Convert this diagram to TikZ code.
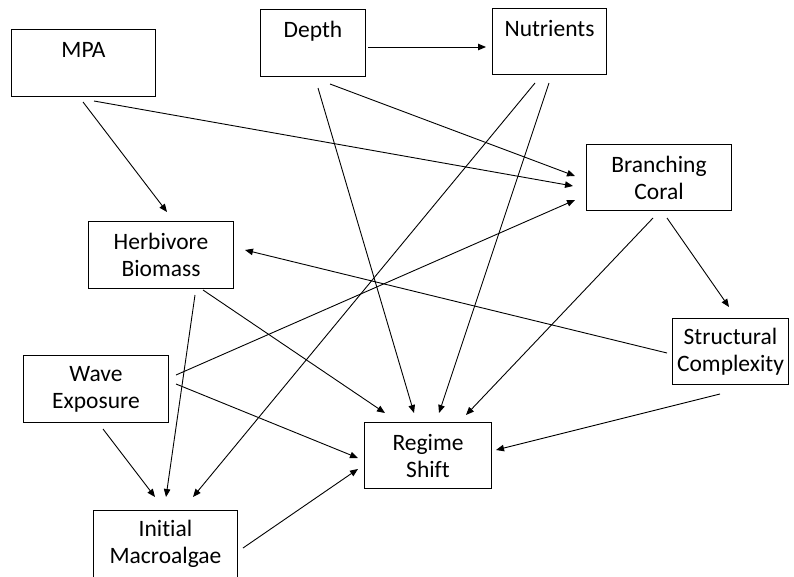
\documentclass[tikz,border=0pt]{standalone}
\usepackage{fontspec}
\setmainfont{Carlito}[Ligatures=NoCommon]
\usetikzlibrary{arrows.meta}
\begin{document}
\begin{tikzpicture}[x=1pt,y=-1pt,
  box/.style={draw,line width=1pt,anchor=north west,inner sep=0pt,
    align=center,font=\fontsize{23.5}{27}\selectfont},
  link/.style={line width=0.9pt,-{Triangle[length=8pt,width=6.5pt]}}]
\useasboundingbox (0,0) rectangle (794,576);
% variables (boxes placed by their upper-left corners)
\node[box,minimum width=144pt,minimum height=67pt] (mpa)    at (11,29)   {MPA\\\mbox{}};
\node[box,minimum width=105pt,minimum height=67pt] (depth)  at (260,9)   {Depth\\\mbox{}};
\node[box,minimum width=114pt,minimum height=66pt] (nut)    at (492,8)   {Nutrients\\\mbox{}};
\node[box,minimum width=145pt,minimum height=66pt] (br)     at (586,144) {Branching\\Coral};
\node[box,minimum width=145pt,minimum height=67pt] (herb)   at (88,221)  {Herbivore\\Biomass};
\node[box,minimum width=145pt,minimum height=67pt] (wave)   at (23,355)  {Wave\\Exposure};
\node[box,minimum width=116pt,minimum height=66pt] (struct) at (672,318) {Structural\\Complexity};
\node[box,minimum width=127pt,minimum height=66pt] (regime) at (364,422) {Regime\\Shift};
\node[box,minimum width=144pt,minimum height=67pt] (init)   at (93,510)  {Initial\\Macroalgae};
% causal links
\draw[link] ([shift={(72,73)}]mpa.north west)    -- ([shift={(79,-9)}]herb.north west);
\draw[link] ([shift={(83,72)}]mpa.north west)    -- ([shift={(-13,42)}]br.north west);
\draw[link] ([shift={(108,38)}]depth.north west) -- ([shift={(-6,39)}]nut.north west);
\draw[link] ([shift={(58,79)}]depth.north west)  -- ([shift={(50,-9)}]regime.north west);
\draw[link] ([shift={(70,75)}]depth.north west)  -- ([shift={(-11,32)}]br.north west);
\draw[link] ([shift={(43,75)}]nut.north west)    -- ([shift={(100,-13)}]init.north west);
\draw[link] ([shift={(57,75)}]nut.north west)    -- ([shift={(75,-9)}]regime.north west);
\draw[link] ([shift={(153,20)}]wave.north west)  -- ([shift={(-11,56)}]br.north west);
\draw[link] ([shift={(67,74)}]br.north west)     -- ([shift={(102,-7)}]regime.north west);
\draw[link] ([shift={(81,74)}]br.north west)     -- ([shift={(57,-11)}]struct.north west);
\draw[link] ([shift={(-5,35)}]struct.north west) -- ([shift={(157,29)}]herb.north west);
\draw[link] ([shift={(48,76)}]struct.north west) -- ([shift={(132,28)}]regime.north west);
\draw[link] ([shift={(115,69)}]herb.north west)  -- ([shift={(21,-9)}]regime.north west);
\draw[link] ([shift={(107,74)}]herb.north west)  -- ([shift={(73,-13)}]init.north west);
\draw[link] ([shift={(153,29)}]wave.north west)  -- ([shift={(-6,36)}]regime.north west);
\draw[link] ([shift={(80,74)}]wave.north west)   -- ([shift={(62,-13)}]init.north west);
\draw[link] ([shift={(150,38)}]init.north west)  -- ([shift={(-6,47)}]regime.north west);
\end{tikzpicture}
\end{document}
